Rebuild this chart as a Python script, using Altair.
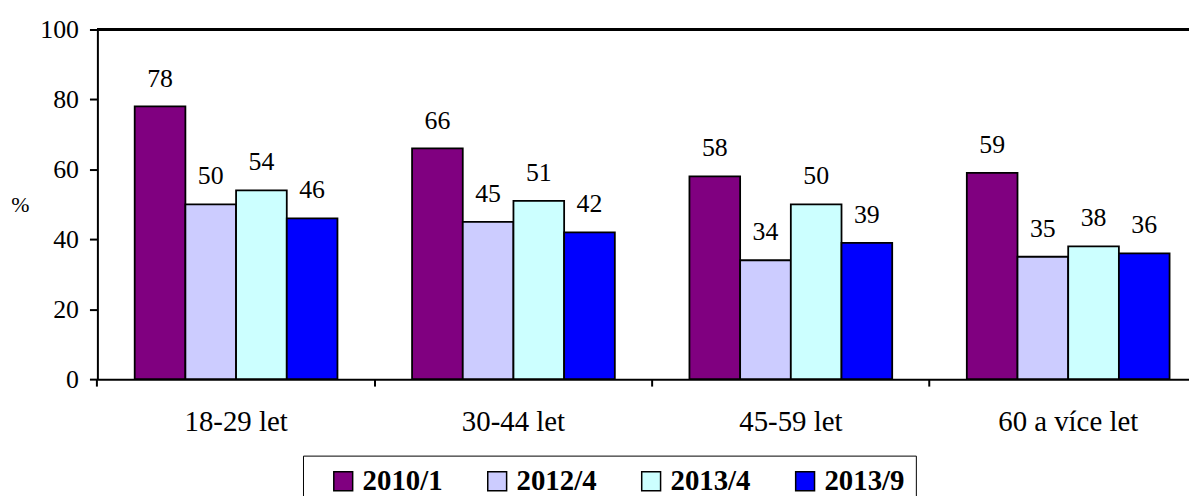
import altair as alt
import pandas as pd

categories = ["18-29 let", "30-44 let", "45-59 let", "60 a více let"]
series = ["2010/1", "2012/4", "2013/4", "2013/9"]
v2010_1 = [78, 66, 58, 59]
v2012_4 = [50, 45, 34, 35]
v2013_4 = [54, 51, 50, 38]
v2013_9 = [46, 42, 39, 36]
colors = ["#800080", "#CCCCFF", "#CCFFFF", "#0000FF"]
y_ticks = [0, 20, 40, 60, 80, 100]

rows = []
for s, vals in zip(series, [v2010_1, v2012_4, v2013_4, v2013_9]):
    for c, v in zip(categories, vals):
        rows.append({"cat": c, "series": s, "value": v})
df = pd.DataFrame(rows)

FONT = "Liberation Serif"
W = 1099
H = 352
FULL = 1117
P_IN = 0.269
P_OUT = P_IN / 2

x_enc = alt.X(
    "cat:N",
    sort=categories,
    scale=alt.Scale(range=[0, FULL], paddingInner=P_IN, paddingOuter=P_OUT),
    axis=alt.Axis(
        title=None,
        bandPosition=-(P_IN / 2) / (1 - P_IN),
        labelAngle=0,
        labelFont=FONT,
        labelFontSize=29,
        labelColor="black",
        labelPadding=22,
        tickSize=7,
        tickColor="black",
        tickWidth=2,
        domainColor="black",
        domainWidth=2,
        grid=False,
    ),
)
y_enc = alt.Y(
    "value:Q",
    scale=alt.Scale(domain=[0, 100], nice=False),
    axis=alt.Axis(
        values=y_ticks,
        title="%",
        titleAngle=0,
        titleFont=FONT,
        titleFontSize=22,
        titleFontWeight="normal",
        titleColor="black",
        titleX=-78,
        titleY=176,
        titleAlign="center",
        titleBaseline="middle",
        labelFont=FONT,
        labelFontSize=26,
        labelColor="black",
        labelPadding=11,
        tickSize=8,
        tickColor="black",
        tickWidth=2,
        domainColor="black",
        domainWidth=2,
        grid=False,
    ),
)
xoff = alt.XOffset("series:N", sort=series, scale=alt.Scale(paddingInner=0, paddingOuter=0))
color_enc = alt.Color(
    "series:N",
    sort=series,
    scale=alt.Scale(domain=series, range=colors),
    legend=alt.Legend(
        title=None,
        orient="none",
        legendX=207,
        legendY=429,
        direction="horizontal",
        columns=4,
        columnPadding=25,
        labelFont=FONT,
        labelFontSize=29,
        labelFontWeight="bold",
        labelColor="black",
        labelOffset=5,
        symbolType="square",
        symbolSize=361,
        symbolOffset=15,
        symbolStrokeColor="black",
        symbolStrokeWidth=1.5,
        symbolOpacity=1,
        strokeColor="black",
        fillColor="white",
        padding=11,
    ),
)

base = alt.Chart(df)
bars = base.mark_bar(stroke="black", strokeWidth=1.8, opacity=1).encode(
    x=x_enc, y=y_enc, xOffset=xoff, color=color_enc
)
labels = base.mark_text(
    font=FONT, fontSize=26, color="black", baseline="middle", align="center", dy=-28
).encode(
    x=alt.X("cat:N", sort=categories),
    y="value:Q",
    xOffset=alt.XOffset("series:N", sort=series),
    text="value:Q",
)
top_line = alt.Chart(df).mark_rule(color="black", strokeWidth=2).encode(y=alt.datum(100))

chart = alt.layer(bars, labels, top_line).properties(
    width=W,
    height=H,
    autosize=alt.AutoSizeParams(type="none"),
    padding={"left": 90, "top": 20, "right": 0, "bottom": 116},
).configure_view(stroke=None)

chart.save("out.html", embed_options={"renderer": "svg", "actions": False})
